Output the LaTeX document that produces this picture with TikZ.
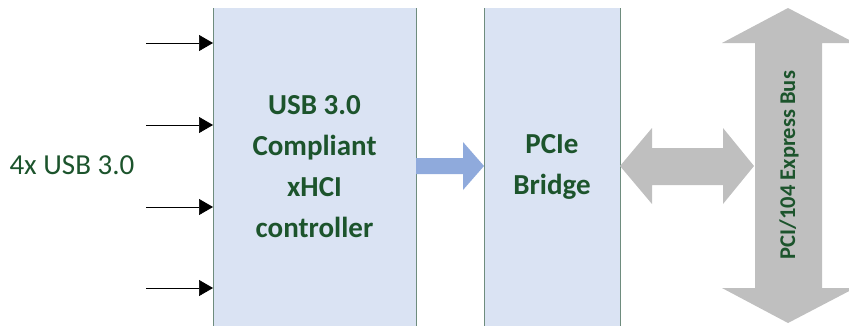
\documentclass[tikz,border=0pt]{standalone}
\usepackage{fontspec}
\setmainfont{Carlito}
\usetikzlibrary{arrows.meta}
\definecolor{txtgreen}{RGB}{28,84,44}
\definecolor{boxfill}{RGB}{218,227,243}
\definecolor{boxline}{RGB}{110,140,125}
\definecolor{bluearr}{RGB}{143,170,220}
\definecolor{greyarr}{RGB}{191,191,191}
\tikzset{
  blk/.style={fill=boxfill, draw=none},
  side/.style={draw=boxline, line width=0.9pt},
  inarrow/.style={-{Triangle[length=14pt,width=16pt]}, line width=0.7pt, black},
  boxtext/.style={text=txtgreen, font=\fontsize{29}{41}\selectfont\bfseries, align=center},
}
\begin{document}
\begin{tikzpicture}[x=1pt,y=-1pt]
\useasboundingbox (0,0) rectangle (849,325);
% blocks
\fill[blk] (213,8) rectangle (416,330);
\draw[side] (213,8) -- (213,330) (416,8) -- (416,330);
\node[boxtext] (ctrl) at (314.5,167) {USB 3.0\\Compliant\\xHCI\\controller};
\fill[blk] (484,8) rectangle (620,330);
\draw[side] (484,8) -- (484,330) (620,8) -- (620,330);
\node[boxtext] (bridge) at (552,167) {PCIe\\Bridge};
% input arrows
\coordinate (i1) at (146,43);
\coordinate (i2) at (146,125);
\coordinate (i3) at (146,207);
\coordinate (i4) at (146,288);
\coordinate (e1) at (213,43);
\coordinate (e2) at (213,125);
\coordinate (e3) at (213,207);
\coordinate (e4) at (213,288);
\foreach \k in {1,2,3,4} \draw[inarrow] (i\k) -- (e\k);
\node[text=txtgreen, font=\fontsize{29}{34}\selectfont, anchor=west] (usb) at (6,165) {4x USB 3.0};
% blue arrow
\fill[bluearr] (416,158) -- (463,158) -- (463,142) -- (484,166) -- (463,190) -- (463,174) -- (416,174) -- cycle;
% grey double arrow
\fill[greyarr] (620,166) -- (652,128) -- (652,148) -- (723,148) -- (723,128) -- (754,166) -- (723,204) -- (723,185) -- (652,185) -- (652,204) -- cycle;
% vertical bus arrow
\fill[greyarr] (788,8) -- (855,43) -- (822,43) -- (822,288) -- (855,288) -- (788,323) -- (722,288) -- (755,288) -- (755,43) -- (722,43) -- cycle;
\node[text=txtgreen, font=\fontsize{22.5}{26}\selectfont\bfseries, rotate=90] (bus) at (789,165) {PCI/104 Express Bus};
\end{tikzpicture}
\end{document}
